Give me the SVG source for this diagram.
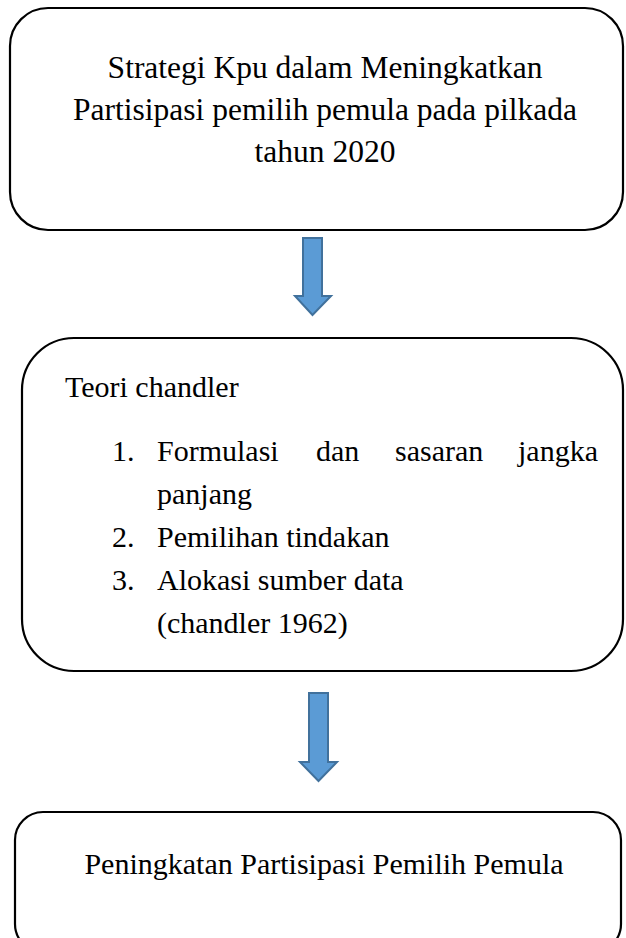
<svg xmlns="http://www.w3.org/2000/svg" width="626" height="938" viewBox="0 0 626 938">
<style>
.box{fill:#fff;stroke:#000;stroke-width:2.2}
.t{font-family:"Liberation Serif","Times New Roman",serif;font-size:30px;fill:#000}
.b1{font-size:31.5px}
.c{text-anchor:middle}
.arr{fill:#5b9bd5;stroke:#41719c;stroke-width:2}
</style>
<rect width="626" height="938" fill="#fff"/>
<g id="node-strategi">
<rect class="box" x="10" y="8" width="613" height="222" rx="38" ry="38"/>
<text class="t b1 c" x="325" y="78">Strategi Kpu dalam Meningkatkan</text>
<text class="t b1 c" x="325" y="120">Partisipasi pemilih pemula pada pilkada</text>
<text class="t b1 c" x="325" y="162">tahun 2020</text>
</g>
<g id="node-teori">
<rect class="box" x="22" y="338" width="601" height="333" rx="52" ry="52"/>
<text class="t" x="65" y="397">Teori chandler</text>
<text class="t" x="112" y="461">1.</text>
<text class="t" x="157" y="461">Formulasi</text>
<text class="t" x="316" y="461">dan</text>
<text class="t" x="395" y="461">sasaran</text>
<text class="t" x="518" y="461">jangka</text>
<text class="t" x="157" y="504">panjang</text>
<text class="t" x="112" y="547">2.</text>
<text class="t" x="157" y="547">Pemilihan tindakan</text>
<text class="t" x="112" y="590">3.</text>
<text class="t" x="157" y="590">Alokasi sumber data</text>
<text class="t" x="157" y="633">(chandler 1962)</text>
</g>
<g id="node-peningkatan">
<rect class="box" x="15" y="812" width="606" height="140" rx="28" ry="28"/>
<text class="t c" x="324" y="874">Peningkatan Partisipasi Pemilih Pemula</text>
</g>
<g id="connectors">
<polygon class="arr" points="303,238 322,238 322,296 331,296 312.5,315 295,296 303,296"/>
<polygon class="arr" points="309,693 328,693 328,762 337,762 318.5,781 300,762 309,762"/>
</g>
</svg>
